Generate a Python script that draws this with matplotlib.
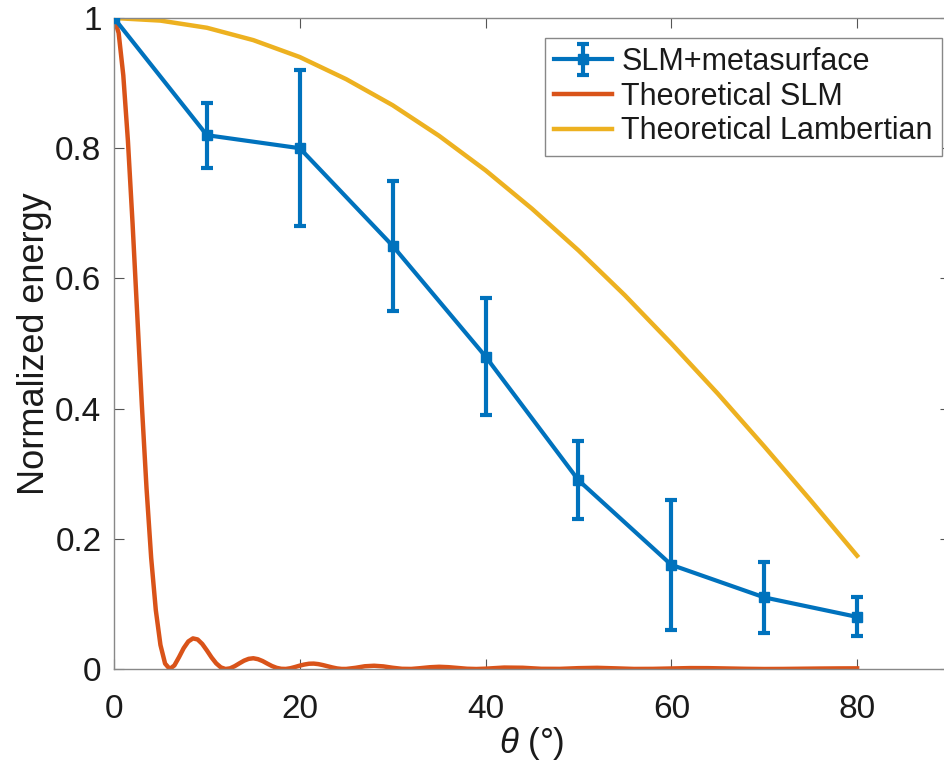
import numpy as np
import matplotlib
matplotlib.use('Agg')
import matplotlib.pyplot as plt

plt.rcParams['font.family'] = ['Liberation Sans', 'DejaVu Sans']
plt.rcParams['mathtext.fontset'] = 'custom'
plt.rcParams['mathtext.it'] = 'Liberation Sans:italic'
plt.rcParams['mathtext.rm'] = 'Liberation Sans'

# measured data (SLM + metasurface)
theta_meas = [0, 10, 20, 30, 40, 50, 60, 70, 80]
energy_meas = [1.0, 0.82, 0.80, 0.65, 0.48, 0.29, 0.16, 0.11, 0.08]
err_meas = [0.0, 0.05, 0.12, 0.10, 0.09, 0.06, 0.10, 0.055, 0.03]

# theoretical SLM curve
theta_slm = [0, 0.5, 1, 1.5, 2, 2.5, 3, 3.5, 4, 4.5, 5, 5.5, 6, 6.5, 7, 7.5,
             8, 8.5, 9, 9.5, 10, 10.5, 11, 11.5, 12, 12.5, 13, 13.5, 14, 14.5,
             15, 15.5, 16, 16.5, 17, 17.5, 18, 18.5, 19, 19.5, 20, 20.5, 21,
             21.5, 22, 22.5, 23, 23.5, 24, 24.5, 25, 26, 27, 28, 29, 30, 31,
             32, 33, 34, 35, 36, 37, 38, 39, 40, 42, 44, 46, 48, 50, 52, 54,
             56, 58, 60, 62, 64, 66, 68, 70, 72, 74, 76, 78, 80]
energy_slm = [1.0, 0.977, 0.912, 0.811, 0.684, 0.545, 0.405, 0.278, 0.171,
              0.0905, 0.0369, 0.0083, 0.0, 0.0055, 0.0182, 0.032, 0.0423,
              0.047, 0.0454, 0.0385, 0.0285, 0.0178, 0.0087, 0.0025, 0.0,
              0.001, 0.0044, 0.0087, 0.0128, 0.0156, 0.0165, 0.0151, 0.0122,
              0.0083, 0.0046, 0.0018, 0.0003, 0.0001, 0.0012, 0.0031, 0.0052,
              0.0069, 0.0081, 0.0083, 0.0075, 0.006, 0.0042, 0.0024, 0.0009,
              0.0001, 0.0001, 0.0018, 0.0042, 0.005, 0.004, 0.0019, 0.0003,
              0.0001, 0.0013, 0.0027, 0.0034, 0.0028, 0.0016, 0.0004, 0.0,
              0.0005, 0.0022, 0.0019, 0.0003, 0.0002, 0.0013, 0.0018, 0.001,
              0.0001, 0.0002, 0.0008, 0.0014, 0.0013, 0.0008, 0.0003, 0.0,
              0.0001, 0.0004, 0.0007, 0.0009, 0.001]

# theoretical Lambertian curve
theta_lam = [0, 5, 10, 15, 20, 25, 30, 35, 40, 45, 50, 55, 60, 65, 70, 75, 80]
energy_lam = [1.0, 0.996, 0.985, 0.966, 0.940, 0.906, 0.866, 0.819, 0.766,
              0.707, 0.643, 0.574, 0.5, 0.423, 0.342, 0.259, 0.174]

blue = '#0072BD'
orange = '#D95319'
yellow = '#EDB120'

fig = plt.figure(figsize=(9.44, 7.79), dpi=100)
ax = fig.add_axes([114 / 944, 110 / 779, 836 / 944, 651 / 779])

eb = ax.errorbar(theta_meas, energy_meas, yerr=err_meas, color=blue, lw=3,
                 marker='s', ms=7, capsize=4.5, capthick=3, elinewidth=3,
                 label='SLM+metasurface', zorder=3)
l1, = ax.plot(theta_slm, energy_slm, color=orange, lw=3.2,
              label='Theoretical SLM')
l2, = ax.plot(theta_lam, energy_lam, color=yellow, lw=3.2,
              label='Theoretical Lambertian')

ax.set_xlim(0, 90)
ax.set_ylim(0, 1)
ax.set_xticks([0, 20, 40, 60, 80])
ax.set_yticks([0, 0.2, 0.4, 0.6, 0.8, 1])
ax.set_yticklabels(['0', '0.2', '0.4', '0.6', '0.8', '1'])
ax.tick_params(direction='in', length=7, width=0.8, color='#555555',
               labelsize=24, top=True, right=True, labelcolor='#1a1a1a')
ax.tick_params(axis='x', pad=18)
ax.tick_params(axis='y', pad=9)
for s in ax.spines.values():
    s.set_color('#888888')
    s.set_linewidth(1.0)

ax.set_xlabel(r'$\theta$ (°)', fontsize=25, labelpad=0, color='#1a1a1a')
ax.set_ylabel('Normalized energy', fontsize=26, labelpad=2, color='#1a1a1a')

leg = ax.legend([eb, l1, l2],
                ['SLM+metasurface', 'Theoretical SLM', 'Theoretical Lambertian'],
                loc='upper right', bbox_to_anchor=(942 / 944, 1 - 38 / 779),
                bbox_transform=fig.transFigure, fontsize=22, fancybox=False,
                framealpha=1, edgecolor='#888888', borderpad=0.3,
                handlelength=1.9, handletextpad=0.3, labelspacing=0.15,
                borderaxespad=0)
leg.get_frame().set_linewidth(1.0)
for t in leg.get_texts():
    t.set_color('#1a1a1a')

fig.savefig('out.png', dpi=100)
